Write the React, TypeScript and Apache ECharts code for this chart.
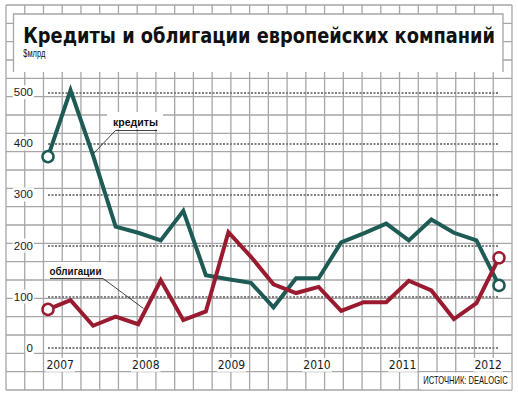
import React, { useEffect, useRef } from "react";
import * as echarts from "echarts";

// Quarterly periods, 2007 Q1 – 2012 Q1
const quarters = [
  "I 2007", "II 2007", "III 2007", "IV 2007",
  "I 2008", "II 2008", "III 2008", "IV 2008",
  "I 2009", "II 2009", "III 2009", "IV 2009",
  "I 2010", "II 2010", "III 2010", "IV 2010",
  "I 2011", "II 2011", "III 2011", "IV 2011",
  "I 2012",
];
// кредиты, $млрд
const credits = [374, 504, 376, 237, 225, 210, 268, 142, 134, 127, 79, 136, 136, 206, 224, 243, 210, 251, 225, 210, 122];
// облигации, $млрд
const bonds = [75, 93, 43, 61, 46, 132, 54, 71, 226, 178, 124, 107, 119, 72, 89, 89, 131, 112, 56, 87, 176];
// year tick labels
const yearLabels = [2007, 2008, 2009, 2010, 2011, 2012];

const TITLE = "Кредиты и облигации европейских компаний";
const SUBTITLE = "$млрд";
const SOURCE = "ИСТОЧНИК: DEALOGIC";
const LABEL_CREDITS = "кредиты";
const LABEL_BONDS = "облигации";

const TEAL = "#1e5b55";
const RED = "#9a1b30";
const PAPER = "#a6a6a6";
const INK = "#1a1a1a";

function measure(text: string, font: string): number {
  const c = document.createElement("canvas").getContext("2d");
  if (!c) return text.length * 7;
  c.font = font;
  return c.measureText(text).width;
}

function endpoints(arr: number[]) {
  return arr.map((v, i) => ({
    value: v,
    symbol: i === 0 || i === arr.length - 1 ? "circle" : "none",
  }));
}

export default function App() {
  const ref = useRef<HTMLDivElement>(null);

  useEffect(() => {
    if (!ref.current) return;
    const chart = echarts.init(ref.current, null, { renderer: "svg" });

    const g: any[] = [];
    // graph-paper background
    for (let k = 0; k <= 27; k++) {
      const x = 6 + 18.74 * k;
      g.push({ type: "line", z: -10, silent: true, shape: { x1: x, y1: 5, x2: x, y2: 390 }, style: { stroke: PAPER, lineWidth: 1.3 } });
    }
    for (let j = 0; j <= 21; j++) {
      const y = 5 + 18.333 * j;
      g.push({ type: "line", z: -10, silent: true, shape: { x1: 6, y1: y, x2: 512, y2: y }, style: { stroke: PAPER, lineWidth: 1.3 } });
    }
    // title box
    g.push({ type: "rect", z: -9, silent: true, shape: { x: 13.5, y: 14, width: 489.5, height: 58 }, style: { fill: "#fff" } });
    g.push({ type: "polyline", z: -9, silent: true, shape: { points: [[13.5, 72], [13.5, 14], [503, 14], [503, 72]] }, style: { stroke: PAPER, lineWidth: 1.3, fill: null } });

    const titleFont = 'bold 22px "DejaVu Sans"';
    const tW = measure(TITLE, titleFont);
    g.push({ type: "text", z: 20, x: 23.3, y: 35, scaleX: 472 / tW, style: { text: TITLE, font: titleFont, fill: "#111", textAlign: "left", textVerticalAlign: "middle", align: "left", verticalAlign: "middle" } });
    const subFont = '11px "Liberation Sans"';
    const sW = measure(SUBTITLE, subFont);
    g.push({ type: "text", z: 20, x: 23.3, y: 53, scaleX: 22 / sW, style: { text: SUBTITLE, font: subFont, fill: "#111", textAlign: "left", textVerticalAlign: "middle", align: "left", verticalAlign: "middle" } });

    // annotation: кредиты
    const annFont = 'bold 11px "Liberation Sans"';
    g.push({ type: "rect", z: 20, silent: true, shape: { x: 107, y: 112, width: 56, height: 17 }, style: { fill: "#fff" } });
    const cW = measure(LABEL_CREDITS, annFont);
    g.push({ type: "text", z: 21, x: 113, y: 122, scaleX: 45 / cW, style: { text: LABEL_CREDITS, font: annFont, fill: "#111", textAlign: "left", textVerticalAlign: "middle", align: "left", verticalAlign: "middle" } });
    g.push({ type: "polyline", z: 21, silent: true, shape: { points: [[93.5, 153.5], [115.5, 130.5], [157, 130.5]] }, style: { stroke: "#111", lineWidth: 0.8, fill: null } });

    // annotation: облигации
    g.push({ type: "rect", z: 20, silent: true, shape: { x: 45, y: 262, width: 62, height: 16 }, style: { fill: "#fff" } });
    const bW = measure(LABEL_BONDS, annFont);
    g.push({ type: "text", z: 21, x: 49.5, y: 271.5, scaleX: 52 / bW, style: { text: LABEL_BONDS, font: annFont, fill: "#111", textAlign: "left", textVerticalAlign: "middle", align: "left", verticalAlign: "middle" } });
    g.push({ type: "polyline", z: 21, silent: true, shape: { points: [[50, 278.5], [103, 278.5], [143.5, 308.5]] }, style: { stroke: "#111", lineWidth: 0.8, fill: null } });

    // source
    g.push({ type: "rect", z: 20, silent: true, shape: { x: 421, y: 372.5, width: 90.3, height: 17 }, style: { fill: "#fff" } });
    const srcFont = '10.5px "Liberation Sans"';
    const srcW = measure(SOURCE, srcFont);
    g.push({ type: "text", z: 21, x: 423.3, y: 381, scaleX: 84.5 / srcW, style: { text: SOURCE, font: srcFont, fill: "#111", textAlign: "left", textVerticalAlign: "middle", align: "left", verticalAlign: "middle" } });

    const option: any = {
      animation: false,
      backgroundColor: "#fff",
      grid: { left: 48, right: 19, top: 92.3, bottom: 49.3, containLabel: false },
      xAxis: [
        {
          type: "category",
          data: quarters,
          boundaryGap: false,
          axisLine: { show: false },
          axisTick: { show: false },
          axisLabel: { show: false },
          splitLine: { show: false },
        },
        {
          type: "value",
          position: "bottom",
          min: 2006.8575,
          max: 2012.1262,
          axisLine: { show: false },
          axisTick: { show: false },
          splitLine: { show: false },
          axisLabel: {
            customValues: yearLabels,
            formatter: (v: number) => String(Math.round(v)),
            fontSize: 12,
            fontFamily: '"Liberation Sans Narrow", "DejaVu Sans Condensed", "Liberation Sans"',
            color: INK,
            margin: 10,
            backgroundColor: "#fff",
            padding: [1, 1, 1, 1],
          },
        },
      ],
      yAxis: {
        type: "value",
        min: 0,
        max: 500,
        interval: 100,
        axisLine: { show: false },
        axisTick: { show: false },
        axisLabel: {
          fontSize: 11.5,
          fontFamily: '"Liberation Sans"',
          color: INK,
          margin: 14,
          backgroundColor: "#fff",
          padding: [1, 1, 1, 1],
        },
        splitLine: { show: true, lineStyle: { color: "#808080", width: 1.8, type: [2, 1.5] } },
      },
      graphic: g,
      series: [
        {
          name: LABEL_CREDITS,
          type: "line",
          xAxisIndex: 0,
          data: endpoints(credits),
          clip: false,
          showAllSymbol: true,
          symbolSize: 11,
          lineStyle: { color: TEAL, width: 4, join: "miter", miterLimit: 10 },
          itemStyle: { color: "#fff", borderColor: TEAL, borderWidth: 2.5 },
          z: 3,
        },
        {
          name: LABEL_BONDS,
          type: "line",
          xAxisIndex: 0,
          data: endpoints(bonds),
          clip: false,
          showAllSymbol: true,
          symbolSize: 11,
          lineStyle: { color: RED, width: 4, join: "miter", miterLimit: 10 },
          itemStyle: { color: "#fff", borderColor: RED, borderWidth: 2.5 },
          z: 4,
        },
      ],
    };
    chart.setOption(option);
    return () => chart.dispose();
  }, []);

  return (
    <div
      ref={ref}
      style={{ position: "fixed", left: 0, top: 0, width: 518, height: 397, background: "#fff" }}
    />
  );
}
